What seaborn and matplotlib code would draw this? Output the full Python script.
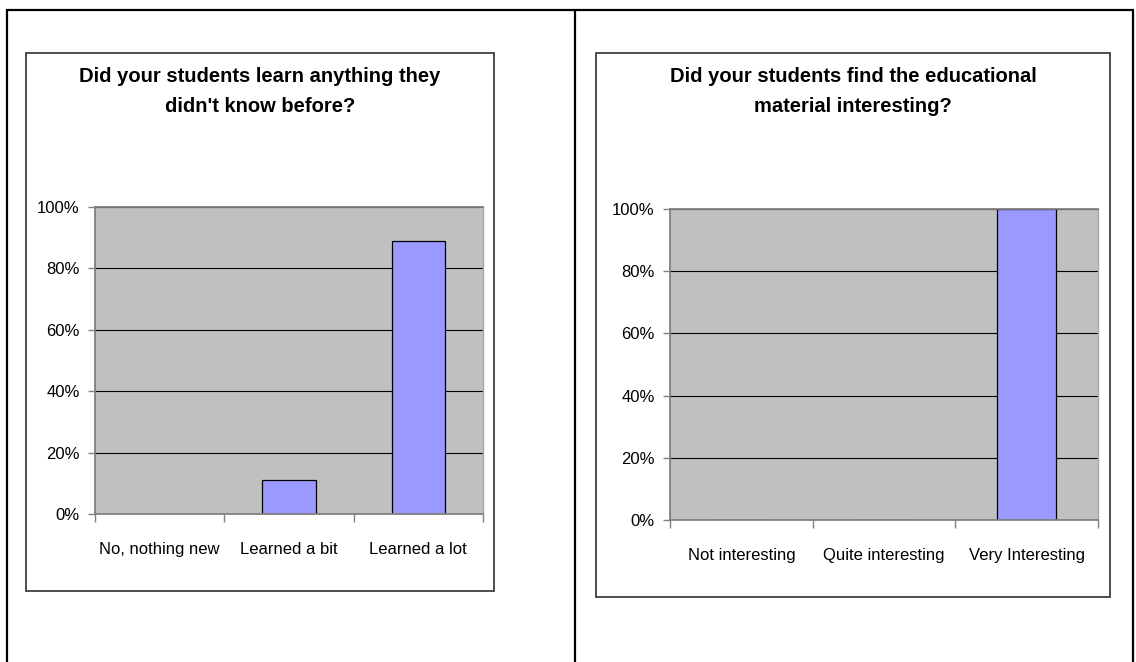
import matplotlib
matplotlib.use('Agg')
import matplotlib.pyplot as plt
import matplotlib.font_manager as fm
from matplotlib.patches import Rectangle
from matplotlib.lines import Line2D
from matplotlib.ticker import PercentFormatter, FixedLocator
import seaborn as sns

# Chart data (percent of answers)
learn_cats = ['No, nothing new', 'Learned a bit', 'Learned a lot']
learn_vals = [0, 11, 89]
learn_title = ["Did your students learn anything they", "didn't know before?"]

interest_cats = ['Not interesting', 'Quite interesting', 'Very Interesting']
interest_vals = [0, 0, 100]
interest_title = ["Did your students find the educational", "material interesting?"]

y_ticks = [0, 20, 40, 60, 80, 100]

W, H = 1136, 662


def has_font(name):
    try:
        fm.findfont(fm.FontProperties(family=name), fallback_to_default=False)
        return True
    except ValueError:
        return False


sns.set_theme(style='white')
if has_font('Liberation Sans Narrow'):
    family = ['Liberation Sans Narrow', 'DejaVu Sans']
    tick_size, title_size = 14, 17
else:
    family = ['Liberation Sans', 'DejaVu Sans']
    tick_size, title_size = 12, 14.5
plt.rcParams['font.family'] = family

fig = plt.figure(figsize=(W / 100, H / 100), dpi=100)
fig.patch.set_facecolor('white')


def fx(px):
    return px / W


def fy(py):
    return 1 - py / H


# outer table frame
for xs, ys in [((7, 1133), (10, 10)), ((7, 7), (10, 662)),
               ((575, 575), (10, 662)), ((1133, 1133), (10, 662))]:
    fig.add_artist(Line2D([fx(x) for x in xs], [fy(y) for y in ys],
                          color='black', lw=1.6, transform=fig.transFigure))

# chart boxes
for x0, y0, x1, y1 in [(26, 53, 494, 591), (596, 53, 1110, 597)]:
    fig.add_artist(Rectangle((fx(x0), fy(y1)), fx(x1 - x0), (y1 - y0) / H,
                             transform=fig.transFigure, facecolor='none',
                             edgecolor='#404040', lw=1.3))


def draw_chart(rect, cats, vals, title, title_cx):
    x0, y0, x1, y1 = rect
    ax = fig.add_axes([fx(x0), fy(y1), fx(x1 - x0), (y1 - y0) / H])
    ax.set_facecolor('#C0C0C0')
    sns.barplot(x=cats, y=vals, color='#9999FF', saturation=1,
                edgecolor='black', linewidth=0.9, width=0.41, ax=ax)
    ax.set_xlim(-0.5, len(cats) - 0.5)
    ax.set_ylim(0, 100)
    ax.set_axisbelow(True)
    ax.yaxis.grid(True, color='black', lw=0.8)
    ax.set_yticks(y_ticks)
    ax.yaxis.set_major_formatter(PercentFormatter(xmax=100, decimals=0))
    ax.tick_params(axis='y', left=True, length=5, width=1, color='#808080',
                   pad=6, labelsize=tick_size, labelcolor='black')
    # category boundaries carry the tick marks, labels sit in between
    ax.xaxis.set_major_locator(FixedLocator([i - 0.5 for i in range(len(cats) + 1)]))
    ax.xaxis.set_minor_locator(FixedLocator(list(range(len(cats)))))
    ax.set_xticklabels([], minor=False)
    ax.set_xticklabels(cats, minor=True)
    ax.tick_params(axis='x', which='major', bottom=True, length=6, width=1,
                   color='#808080')
    ax.tick_params(axis='x', which='minor', bottom=True, length=0, pad=20.5,
                   labelsize=tick_size, labelcolor='black')
    for side in ['left', 'bottom', 'top']:
        ax.spines[side].set_color('#808080')
        ax.spines[side].set_linewidth(1.3)
    ax.spines['right'].set_color('#A8A8A8')
    ax.spines['right'].set_linewidth(1.0)
    ax.set_xlabel('')
    ax.set_ylabel('')
    for line, ty in zip(title, [76, 107]):
        fig.text(fx(title_cx), fy(ty), line, ha='center', va='center',
                 fontsize=title_size, fontweight='bold', color='black')
    return ax


draw_chart((95, 207, 483, 514), learn_cats, learn_vals, learn_title, 260)
draw_chart((670, 209, 1098, 520), interest_cats, interest_vals, interest_title, 853)

fig.savefig('out.png', dpi=100, facecolor='white')
